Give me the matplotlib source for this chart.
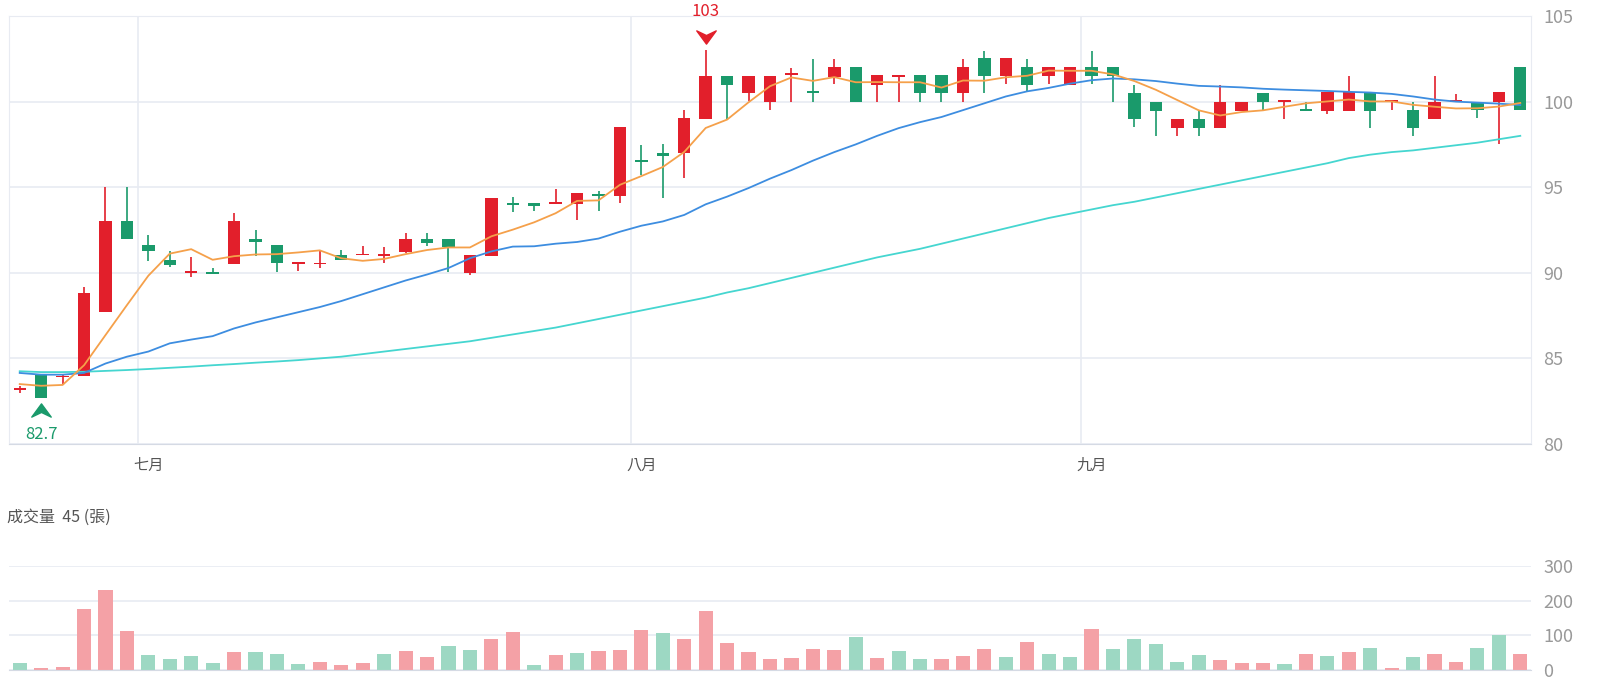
import numpy as np
import matplotlib
matplotlib.use("Agg")
import matplotlib.pyplot as plt
from matplotlib.path import Path

plt.rcParams['font.family'] = ['Noto Sans CJK TC', 'DejaVu Sans']

# 1) 資料 (圖上讀值) ----------------------------------------------------------
opens = [83.15, 84.05, 83.9, 84.0, 87.7, 93.05, 91.6, 90.75, 90.0, 90.05,
         90.5, 92.0, 91.6, 90.52, 90.5, 91.05, 91.02, 91.0, 91.2, 92.0,
         92.0, 90.0, 91.0, 94.05, 94.05, 94.03, 94.03, 94.6, 94.5, 96.6,
         97.0, 97.0, 99.0, 101.5, 100.5, 100.0, 101.55, 100.55, 101.45, 102.05,
         100.97, 101.45, 101.55, 101.55, 100.5, 102.55, 101.5, 102.05, 101.5, 100.97,
         102.0, 102.0, 100.5, 100.0, 98.47, 99.0, 98.47, 99.47, 100.5, 99.97,
         99.52, 99.47, 99.47, 100.55, 99.97, 99.5, 99.0, 99.97, 100.0, 100.0, 102.0]
highs = [83.4, 84.05, 84.05, 89.15, 95.0, 95.0, 92.2, 91.3, 90.95, 90.3,
         93.5, 92.5, 91.6, 90.6, 91.35, 91.35, 91.55, 91.5, 92.3, 92.3,
         92.0, 91.05, 94.35, 94.45, 94.05, 94.9, 94.65, 94.75, 98.5, 97.45,
         97.5, 99.5, 103.0, 101.5, 101.5, 101.5, 101.95, 102.5, 102.5, 102.05,
         101.55, 101.55, 101.55, 101.55, 102.5, 102.98, 102.55, 102.5, 102.0, 102.0,
         102.95, 102.0, 100.97, 100.0, 99.0, 99.47, 100.97, 100.0, 100.5, 100.03,
         100.0, 100.55, 101.5, 100.55, 100.03, 100.0, 101.5, 100.45, 100.0, 100.55, 102.0]
lows = [83.0, 82.7, 83.5, 84.0, 87.7, 92.0, 90.7, 90.35, 89.75, 89.95,
        90.5, 91.0, 90.05, 90.1, 90.3, 90.73, 91.02, 90.6, 91.15, 91.55,
        90.05, 89.9, 91.0, 93.55, 93.6, 94.03, 93.07, 93.6, 94.07, 95.7,
        94.35, 95.55, 99.0, 99.0, 100.05, 99.5, 100.0, 100.0, 101.05, 100.0,
        100.0, 100.0, 100.0, 100.0, 100.0, 100.5, 101.05, 100.55, 101.05, 100.97,
        101.05, 100.0, 98.5, 98.0, 98.0, 98.0, 98.47, 99.47, 99.5, 99.0,
        99.47, 99.25, 99.47, 98.45, 99.5, 98.0, 99.0, 99.97, 99.05, 97.5, 99.5]
closes = [83.25, 82.7, 84.0, 88.8, 93.05, 92.0, 91.3, 90.45, 90.1, 89.95,
          93.05, 91.8, 90.55, 90.58, 90.56, 90.75, 91.08, 91.08, 92.0, 91.75,
          91.5, 91.05, 94.35, 93.95, 93.9, 94.15, 94.65, 94.5, 98.5, 96.45,
          96.8, 99.05, 101.5, 100.95, 101.5, 101.5, 101.6, 100.5, 102.05, 100.0,
          101.55, 101.55, 100.5, 100.5, 102.05, 101.5, 102.55, 100.97, 102.0, 102.0,
          101.5, 101.5, 99.0, 99.47, 99.0, 98.47, 100.0, 100.0, 100.0, 100.03,
          99.47, 100.55, 100.55, 99.47, 100.03, 98.47, 100.0, 100.05, 99.5, 100.55, 99.5]

ma5 = [83.5, 83.4, 83.45, 84.6, 86.36, 88.11, 89.83, 91.12, 91.38, 90.76,
       90.97, 91.07, 91.09, 91.19, 91.31, 90.85, 90.70, 90.81, 91.09, 91.33,
       91.48, 91.48, 92.13, 92.52, 92.95, 93.48, 94.2, 94.23, 95.14, 95.65,
       96.18, 97.06, 98.46, 98.95, 99.96, 100.9, 101.41, 101.21, 101.43, 101.13,
       101.14, 101.13, 101.13, 100.82, 101.23, 101.22, 101.42, 101.51, 101.81, 101.8,
       101.8, 101.59, 101.2, 100.69, 100.09, 99.49, 99.19, 99.39, 99.49, 99.7,
       99.9, 100.01, 100.12, 100.01, 100.01, 99.81, 99.7, 99.6, 99.61, 99.71, 99.92]
ma20 = [84.15, 84.05, 84.05, 84.15, 84.7, 85.1, 85.4, 85.88, 86.1, 86.3,
        86.75, 87.1, 87.4, 87.7, 88.0, 88.35, 88.75, 89.15, 89.55, 89.9,
        90.28, 90.85, 91.25, 91.53, 91.55, 91.7, 91.8, 92.0, 92.4, 92.75,
        93.0, 93.38, 94.0, 94.45, 94.95, 95.5, 96.0, 96.55, 97.05, 97.5,
        98.0, 98.45, 98.8, 99.1, 99.5, 99.9, 100.3, 100.6, 100.8, 101.05,
        101.25, 101.35, 101.3, 101.2, 101.05, 100.92, 100.88, 100.83, 100.75, 100.7,
        100.66, 100.62, 100.57, 100.53, 100.45, 100.3, 100.12, 100.0, 99.94, 99.88, 99.8]
ma60 = [84.25, 84.2, 84.2, 84.22, 84.27, 84.32, 84.38, 84.45, 84.52, 84.6,
        84.67, 84.75, 84.82, 84.9, 85.0, 85.1, 85.25, 85.4, 85.55, 85.7,
        85.85, 86.0, 86.2, 86.4, 86.6, 86.8, 87.05, 87.3, 87.55, 87.8,
        88.05, 88.3, 88.55, 88.85, 89.1, 89.4, 89.7, 90.0, 90.3, 90.6,
        90.9, 91.15, 91.4, 91.7, 92.0, 92.3, 92.6, 92.9, 93.2, 93.45,
        93.7, 93.95, 94.15, 94.4, 94.65, 94.9, 95.15, 95.4, 95.65, 95.9,
        96.15, 96.4, 96.7, 96.9, 97.05, 97.15, 97.3, 97.45, 97.6, 97.8, 98.0]

volume = [21, 7, 10, 175, 231, 112, 42, 32, 39, 21,
          52, 51, 46, 17, 24, 13, 20, 47, 55, 38,
          68, 59, 89, 109, 14, 43, 49, 54, 58, 114,
          108, 90, 170, 77, 51, 32, 34, 60, 57, 94,
          34, 54, 32, 32, 40, 60, 38, 82, 47, 37,
          118, 60, 88, 75, 24, 43, 30, 20, 21, 16,
          47, 39, 51, 63, 7, 37, 47, 23, 64, 101, 45]
# r = 紅(漲), g = 綠(跌)
vol_dir = list("grrrrrgggg" "rgggrrrgrr" "ggrrgrgrrr" "grrrrrrrrg"
               "rggrrrgrgg" "rgggggrrrg" "rgrgrgrrggr")

month_labels = ['七月', '八月', '九月']
month_start = [6, 29, 50]
price_ticks = [80, 85, 90, 95, 100, 105]
vol_ticks = [0, 100, 200, 300]
last_vol = 45

# 2) 顏色 ----------------------------------------------------------------------
RED, GREEN = '#E21F2B', '#1A9A6B'
VRED, VGREEN = '#F4A1A6', '#9DD8C3'
C_MA5, C_MA20, C_MA60 = '#F5A04A', '#3D8DE0', '#45D6D0'
GRID = '#E8EBF2'
TXT = '#999999'

n = len(closes)
x = np.arange(n)
o, h, l, c = map(np.array, (opens, highs, lows, closes))
up = c >= o
col = np.where(up, RED, GREEN)

fig = plt.figure(figsize=(16, 7), dpi=100)
ax = fig.add_axes([9/1600, 1-444/700, 1522/1600, 428/700])
axv = fig.add_axes([9/1600, 1-670/700, 1522/1600, 104/700])

# 3) K 線 ---------------------------------------------------------------------
ax.vlines(x, l, h, colors=col, lw=1.2, zorder=2)
body_lo = np.minimum(o, c)
body_h = np.maximum(np.abs(c - o), 0.1)
ax.bar(x, body_h, bottom=body_lo, width=0.58, color=col, lw=0, zorder=2)

ax.plot(x, ma60, color=C_MA60, lw=1.3, zorder=3)
ax.plot(x, ma20, color=C_MA20, lw=1.3, zorder=3)
ax.plot(x, ma5, color=C_MA5, lw=1.3, zorder=3)

# 最高 / 最低 標記
chev = Path([(-1, 0.68), (0, -0.68), (1, 0.68), (0, 0.2), (-1, 0.68)],
            [Path.MOVETO, Path.LINETO, Path.LINETO, Path.LINETO, Path.CLOSEPOLY])
chev_up = Path(chev.vertices * [1, -1], chev.codes)
i_hi, i_lo = int(np.argmax(h)), int(np.argmin(l))
ax.plot(i_hi, h[i_hi] + 0.78, marker=chev, ms=14, color=RED, clip_on=False, zorder=4)
ax.annotate(f"{h[i_hi]:g}", (i_hi, h[i_hi]), xytext=(0, 39), textcoords='offset pixels',
            ha='center', va='center', color=RED, fontsize=12, annotation_clip=False)
ax.plot(i_lo, l[i_lo] - 0.7, marker=chev_up, ms=14, color=GREEN, clip_on=False, zorder=4)
ax.annotate(f"{l[i_lo]:g}", (i_lo, l[i_lo]), xytext=(0, -37), textcoords='offset pixels',
            ha='center', va='center', color=GREEN, fontsize=12, annotation_clip=False)

ax.set_xlim(-0.5, n - 0.5)
ax.set_ylim(price_ticks[0], price_ticks[-1])
ax.set_yticks(price_ticks)
ax.yaxis.tick_right()
ax.grid(axis='y', color=GRID, lw=1.2)
bounds = [s - 0.5 for s in month_start]
ax.set_xticks(bounds)
ax.set_xticklabels([])
ax.set_xticks(month_start, minor=True)
ax.set_xticklabels(month_labels, minor=True)
ax.grid(axis='x', which='major', color=GRID, lw=1.2)
ax.tick_params(axis='x', which='both', length=0, pad=9, labelsize=11, labelcolor='#555555')
ax.tick_params(axis='y', length=0, pad=9, labelsize=13, labelcolor=TXT)
for s in ax.spines.values():
    s.set_color(GRID)
ax.spines['bottom'].set_color('#D5DAE4')
ax.set_axisbelow(True)

# 4) 成交量 --------------------------------------------------------------------
vcol = [VRED if d == 'r' else VGREEN for d in vol_dir]
axv.bar(x, volume, width=0.66, color=vcol, lw=0, zorder=2)
axv.set_xlim(-0.5, n - 0.5)
axv.set_ylim(vol_ticks[0], vol_ticks[-1])
axv.set_yticks(vol_ticks)
axv.yaxis.tick_right()
axv.set_xticks([])
axv.grid(axis='y', color=GRID, lw=1.2)
axv.tick_params(axis='y', length=0, pad=9, labelsize=13, labelcolor=TXT)
for k in ['left', 'right', 'top']:
    axv.spines[k].set_visible(False)
axv.spines['bottom'].set_color('#D5DAE4')
axv.set_axisbelow(True)

fig.text(7/1600, 1-517/700, f"成交量  {last_vol} (張)", ha='left', va='center',
         fontsize=11.5, color='#555555')

fig.savefig("out.png", dpi=100, facecolor='white')
